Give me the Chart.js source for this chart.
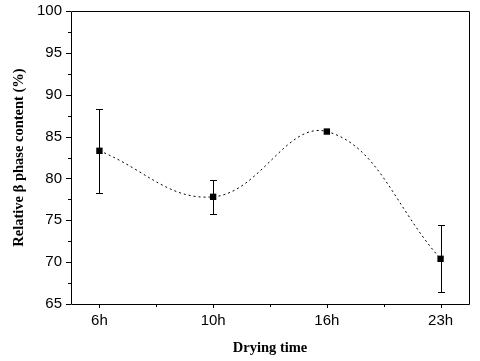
<!DOCTYPE html>
<html>
<head>
<meta charset="utf-8">
<script src="https://cdn.jsdelivr.net/npm/chart.js@4.4.1/dist/chart.umd.min.js"></script>
<style>
  html, body { margin: 0; padding: 0; background: #fff; }
  #wrap { width: 480px; height: 361px; }
</style>
</head>
<body>
<div id="wrap"><canvas id="myChart" width="480" height="361"></canvas></div>
<script>
const categories = ["6h", "10h", "16h", "23h"];
const betaContent = [83.3, 77.8, 85.6, 70.4];
const errorBars = [5.0, 2.0, 0, 4.0];
const yTicks = [65, 70, 75, 80, 85, 90, 95, 100];

const points = betaContent.map((v, i) => ({ x: i, y: v }));

// error bars + frame + hand drawn ticks (major/minor)
const extras = {
  id: "extras",
  afterDatasetsDraw(chart) {
    const ctx = chart.ctx;
    const xs = chart.scales.x;
    const ys = chart.scales.y;
    const area = chart.chartArea;
    ctx.save();
    ctx.strokeStyle = "#000";
    ctx.lineWidth = 1;
    ctx.beginPath();
    betaContent.forEach((v, i) => {
      const e = errorBars[i];
      if (!e) return;
      const px = Math.round(xs.getPixelForValue(i)) + 0.5;
      const top = Math.round(ys.getPixelForValue(v + e)) + 0.5;
      const bot = Math.round(ys.getPixelForValue(v - e)) + 0.5;
      ctx.moveTo(px, top); ctx.lineTo(px, bot);
      ctx.moveTo(px - 3.5, top); ctx.lineTo(px + 3.5, top);
      ctx.moveTo(px - 3.5, bot); ctx.lineTo(px + 3.5, bot);
    });
    ctx.stroke();

    // frame
    ctx.beginPath();
    ctx.rect(Math.round(area.left) + 0.5, Math.round(area.top) + 0.5,
      Math.round(area.right - area.left), Math.round(area.bottom - area.top));
    ctx.stroke();

    // y ticks
    ctx.beginPath();
    for (let v = 65; v <= 100; v += 2.5) {
      const py = Math.round(ys.getPixelForValue(v)) + 0.5;
      const len = v % 5 === 0 ? 5 : 3;
      ctx.moveTo(area.left - len, py); ctx.lineTo(area.left, py);
    }
    // x ticks
    for (let i = 0; i < categories.length; i++) {
      const px = Math.round(xs.getPixelForValue(i)) + 0.5;
      ctx.moveTo(px, area.bottom); ctx.lineTo(px, area.bottom + 4);
      if (i < categories.length - 1) {
        const pm = Math.round(xs.getPixelForValue(i + 0.5)) + 0.5;
        ctx.moveTo(pm, area.bottom); ctx.lineTo(pm, area.bottom + 3);
      }
    }
    ctx.stroke();
    ctx.restore();
  }
};

new Chart(document.getElementById("myChart").getContext("2d"), {
  type: "line",
  data: {
    datasets: [
      {
        label: "Relative beta phase content",
        data: points,
        borderColor: "#000",
        borderWidth: 1,
        borderDash: [2, 3],
        tension: 0.4,
        pointStyle: "rect",
        pointRadius: 4.5,
        pointBackgroundColor: "#000",
        pointBorderColor: "#000",
        pointBorderWidth: 0,
        fill: false,
      },
    ],
  },
  options: {
    responsive: false,
    animation: false,
    layout: { padding: { top: 11, right: 11, left: 0, bottom: 0 } },
    plugins: {
      legend: { display: false },
      tooltip: { enabled: false },
    },
    scales: {
      x: {
        type: "linear",
        min: -0.25,
        max: 3.25,
        afterFit: (s) => { s.height = 57; s.paddingLeft = 0; s.paddingRight = 0; },
        afterBuildTicks: (s) => {
          s.ticks = categories.map((c, i) => ({ value: i }));
        },
        ticks: {
          callback: (v) => categories[v] || "",
          color: "#000",
          font: { family: "Liberation Sans, Arial", size: 15 },
          padding: 8,
          maxRotation: 0,
        },
        grid: { display: false, drawTicks: false },
        border: { display: false },
        title: {
          display: true,
          text: "Drying time",
          color: "#000",
          font: { family: "Liberation Serif, Times New Roman", size: 14.5, weight: "bold" },
          padding: { top: 6 },
        },
      },
      y: {
        min: 65,
        max: 100,
        afterFit: (s) => { s.width = 71; s.paddingTop = 0; s.paddingBottom = 0; },
        afterBuildTicks: (s) => {
          s.ticks = yTicks.map((v) => ({ value: v }));
        },
        ticks: {
          color: "#000",
          font: { family: "Liberation Sans, Arial", size: 15 },
          padding: 9,
        },
        grid: { display: false, drawTicks: false },
        border: { display: false },
        title: {
          display: true,
          text: "Relative β phase content (%)",
          color: "#000",
          font: { family: "Liberation Serif, Times New Roman", size: 14.5, weight: "bold" },
          padding: { top: 11, bottom: 0 },
        },
      },
    },
  },
  plugins: [extras],
});
</script>
</body>
</html>
